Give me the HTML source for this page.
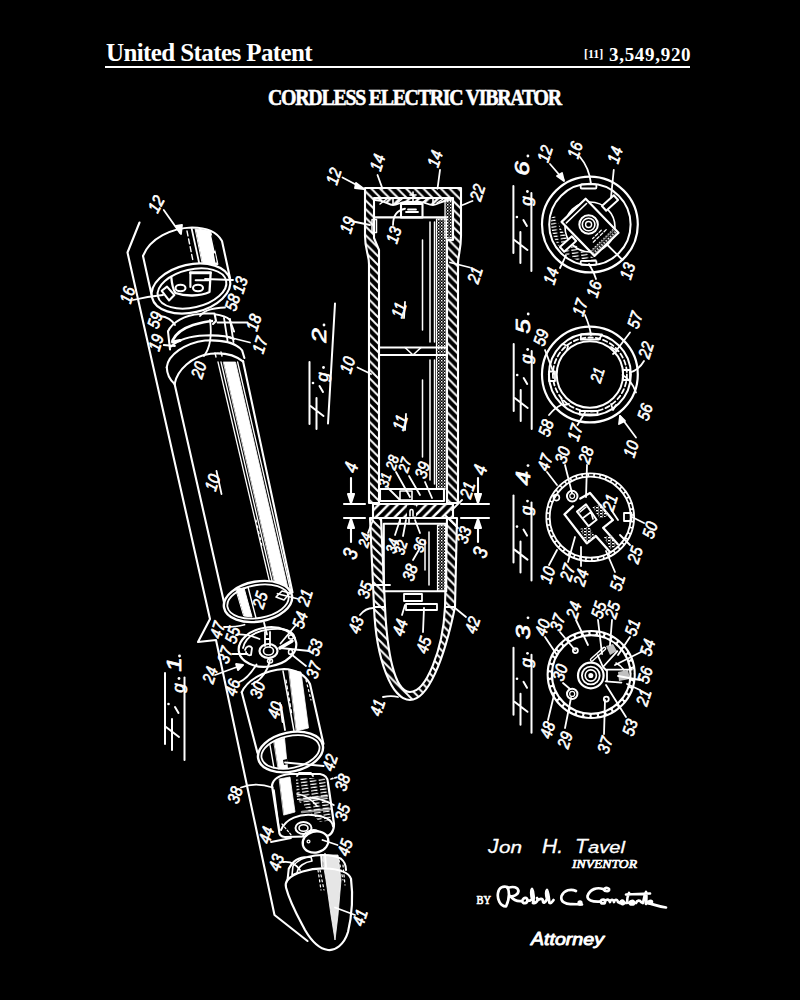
<!DOCTYPE html>
<html><head><meta charset="utf-8">
<style>
html,body{margin:0;padding:0;background:#000;width:800px;height:1000px;overflow:hidden}
.t{position:absolute;color:#fff;font-family:"Liberation Serif",serif;font-weight:bold;white-space:nowrap;line-height:1}
#usp{left:106px;top:40px;font-size:25px;letter-spacing:-0.6px}
#num{left:609px;top:45px;font-size:19px;letter-spacing:0.7px}
#n11{left:584px;top:48px;font-size:12px}
#title{left:268px;top:85px;font-size:24px;letter-spacing:-1.5px;transform-origin:0 0;transform:scaleX(0.826);-webkit-text-stroke:0.6px #fff}
#rule{position:absolute;left:105px;top:66px;width:585px;height:2px;background:#fff}
svg{position:absolute;left:0;top:0}
</style></head><body>
<div class="t" id="usp">United States Patent</div>
<div class="t" id="n11">[11]</div>
<div class="t" id="num">3,549,920</div>
<div id="rule"></div>
<div class="t" id="title">CORDLESS ELECTRIC VIBRATOR</div>
<svg width="800" height="1000" viewBox="0 0 800 1000" fill="none" stroke="#fff" stroke-width="2.1" stroke-linecap="round" stroke-linejoin="round">
<defs>
<pattern id="hb" patternUnits="userSpaceOnUse" width="8.7" height="8.7"><path d="M-1,-1 L9.7,9.7 M-1,7.7 L1,9.7 M7.7,-1 L9.7,1" stroke="#fff" stroke-width="1.9"/></pattern>
<pattern id="hf" patternUnits="userSpaceOnUse" width="9.5" height="9.5"><path d="M-1,10.5 L10.5,-1 M-1,1 L1,-1 M8.5,10.5 L10.5,8.5" stroke="#fff" stroke-width="2.5"/></pattern>
<pattern id="dot" patternUnits="userSpaceOnUse" width="3" height="3"><rect x="0" y="0" width="1.4" height="1.4" fill="#fff" stroke="none"/><rect x="1.5" y="1.5" width="1.2" height="1.2" fill="#ccc" stroke="none"/></pattern>
<pattern id="stip" patternUnits="userSpaceOnUse" width="4" height="3"><rect x="0" y="0" width="2.5" height="1.3" fill="#fff" stroke="none"/><rect x="2" y="1.5" width="1.5" height="1.2" fill="#aaa" stroke="none"/></pattern>
<pattern id="streak" patternUnits="userSpaceOnUse" width="9" height="3.2" patternTransform="rotate(-8)"><path d="M0,1 H6" stroke="#fff" stroke-width="1.3"/></pattern>
</defs>

<g id="fig1">
<!-- envelope -->
<path d="M139.5,222.5 L127.5,252.5 L210,619 L198,642 L216,640 L274.5,915 L307.5,941"/>
<!-- cap 12 -->
<path d="M143,256 C150,238 172,228 192,227.5 C206,227.5 217,232 222,241 L230,278"/>
<path d="M143,256 L152,297"/>
<path d="M195.5,229 L210.5,230.5 L218,264.5 L203,265.5 Z" fill="#fff" stroke-width="1"/>
<path d="M212,236 L215,250 M214.5,254 L216,262" stroke="#000" stroke-width="1.3"/>
<path d="M191.75,229 L199.25,263.5" stroke-width="1.8"/>
<path d="M187,231 L193,261" stroke-width="1.4" stroke-dasharray="5,3"/>
<ellipse cx="191" cy="288.5" rx="40" ry="24" transform="rotate(-13 191 288.5)" stroke-width="2.2" fill="#000"/>
<ellipse cx="192" cy="288.5" rx="35" ry="19" transform="rotate(-13 192 288.5)" stroke-width="2"/>
<path d="M171.25,277 C172,285 173,290 175.5,293 C185,296.5 200,296.5 209.5,292 L210.6,273.8" stroke-width="2.3"/>
<path d="M190.4,272.75 H210.6" stroke-width="2.8"/>
<path d="M190.4,272.75 V287 M195.7,280.2 H209.5" stroke-width="2.1"/>
<ellipse cx="180.5" cy="288" rx="5" ry="3.3" stroke-width="2.1"/><ellipse cx="198" cy="288" rx="5" ry="3.3" stroke-width="2.1"/>
<path d="M161.7,290.8 L167,286.6 L174.4,295 L169,300.4 Z" stroke-width="2.1"/>
<!-- ring 17/18/19/20 -->
<path d="M168,331.5 C172,322 185,315 200,314 L204,313.5 H214.5 L216,321 L213,324 M214.5,314.25 C220,315 227,317 229.5,319.5 L234,331.5"/>
<path d="M168,331.5 L170,349.5"/>
<path d="M172.5,340.5 C176,333 184,328 193,325 C200,323 206,321.5 212,321" stroke-width="2.6"/>
<path d="M172.5,342 L180,340.5" stroke-width="3"/>
<path d="M171,346.5 C178,340 190,336 205,335.5 C220,335 230,337 234,339"/>
<path d="M224,318 L227.5,340.5 M230,319 L233.5,342" stroke-width="1.8"/>
<path d="M166.75,367.25 C168,355 185,343 205,340.5 C222,339.5 236,343 242.1,350.4 L244.4,358"/>
<path d="M166.75,367.25 C167,374 170,380 174.6,384"/>
<path d="M174.6,384 C177,370 192,356 210.6,353.75 C222,352.5 234,354 243.2,361.6"/>
<path d="M215,353 L216,357 M221,352 L222,356" stroke-width="1.4"/>
<!-- tube 10 -->
<path d="M174.6,384 L224.5,604.5 M243,361 L292.5,592.5"/>
<path d="M218,362 L271.5,590 M221,362 L274.2,590" stroke-width="1.3"/>
<path d="M223.6,362 L235.5,362 L288.4,590 L276.5,590 Z" fill="#fff" stroke-width="0.8"/>
<path d="M237.6,362 L290.5,590" stroke-width="1.3"/>
<path d="M256,520 L262,546" stroke-width="1.2" stroke-dasharray="2,4"/>
<path d="M216.5,471 L221.5,494" stroke-width="1.8"/>
<ellipse cx="258" cy="601.5" rx="34.5" ry="20" transform="rotate(-10 258 601.5)" stroke-width="2.4" fill="#000"/>
<ellipse cx="258" cy="601.5" rx="31" ry="16.5" transform="rotate(-10 258 601.5)" stroke-width="1.8"/>
<path d="M236,589 L244,588 L252,617 L244,616 Z" fill="#fff" stroke-width="1"/>
<path d="M248,587 L256,618" stroke-width="1.4"/>
<path d="M276,597 L282,591 L290,593 L284,600 Z" stroke-width="1.6"/>
<!-- disc 24 -->
<ellipse cx="267.5" cy="647" rx="29" ry="19.5" transform="rotate(-9 267.5 647)" stroke-width="2.2"/>
<path d="M243,648 C246,634 262,628 282,629 C290,630 294,634 295,638" stroke-width="1.8"/>
<ellipse cx="268.5" cy="651" rx="9" ry="7" stroke-width="2.2"/><ellipse cx="268.5" cy="651" rx="5" ry="4" stroke-width="1.6"/>
<path d="M265,632 L265,646 M270,632 L270,646 M265,639 H270" stroke-width="1.8"/>
<path d="M245,650 C246,646 250,645 252,648 L251,655 C248,656 246,654 246,652" stroke-width="1.8"/>
<path d="M280,648 L292,641" stroke-width="3.5"/>
<ellipse cx="291" cy="637" rx="2.5" ry="2" stroke-width="1.5"/><ellipse cx="290.5" cy="652" rx="2" ry="2.5" stroke-width="1.5"/><ellipse cx="270" cy="661" rx="2.5" ry="2" stroke-width="1.5"/>
<!-- tube 40 -->
<path d="M241.75,692.25 C247,680 265,670 284,669 C296,669 306,676 310,684 L323.5,744"/>
<path d="M241.75,692.25 L257.5,753"/>
<path d="M289,670 L301,672 L308.5,728 L296.5,731 Z" fill="#fff" stroke-width="0.8"/>
<path d="M283,671 L294,731" stroke-width="1.5"/>
<path d="M286,680 L292,715" stroke-width="1.2" stroke-dasharray="3,3"/>
<path d="M306,680 L311,700" stroke-width="1.2" stroke-dasharray="2,3"/>
<path d="M281,705 L285,730" stroke-width="1.8"/>
<ellipse cx="290.5" cy="752" rx="33" ry="19.5" transform="rotate(-12 290.5 752)" stroke-width="2.4" fill="#000"/>
<ellipse cx="290.5" cy="752" rx="29.5" ry="16" transform="rotate(-12 290.5 752)" stroke-width="1.8"/>
<path d="M274,741 L284.5,738 L287.5,768 L278.5,769 Z" fill="#fff" stroke-width="0.8"/>
<path d="M270,745 L274,768" stroke-width="1.4"/>
<path d="M283,760 L287,759 L288,764 L284,765 Z" fill="#000" stroke="none"/>
<!-- motor 38 -->
<path d="M272,785.5 C273,779 280,775 290,774 L320,774 C326,775 328,779 328,783 L334,824 C334,832 330,836 326,836 L285,837 C281,837 279,834 279,830 Z" stroke-width="2.2"/>
<path d="M279.5,779 L290,777 L295,812 L284,815 Z" fill="#fff" stroke-width="0.8"/>
<path d="M274,790 L279,828" stroke-width="1.6"/>
<path d="M296,778 L325,778 L333,820 L320,822 C310,812 303,805 297,800 Z" fill="url(#streak)" stroke="none"/>
<path d="M300,800 L327,796 M302,812 L330,809" stroke-width="2.5" stroke-opacity="0.6"/>
<path d="M297,794 C305,795 312,800 317,806" stroke-width="1.6"/>
<path d="M281,830 C286,818 300,814 312,815 C325,816 332,820 333,826" stroke-width="2"/>
<path d="M282,824 L292,836" stroke-width="1.2" stroke-dasharray="2,2"/>
<path d="M297,776 L299,773 H311 L313,776" stroke-width="1.8"/>
<ellipse cx="303.5" cy="828" rx="8" ry="6" stroke-width="2"/><ellipse cx="303.5" cy="828" rx="4.5" ry="3.3" stroke-width="1.6"/>
<!-- 45 -->
<path d="M303,836 C306,830 314,829 318,831" stroke-width="1.8"/>
<ellipse cx="315.5" cy="842" rx="13" ry="10.5" transform="rotate(-15 315.5 842)" stroke-width="2.2" fill="#000"/>
<circle cx="308.5" cy="841.5" r="1.4" stroke-width="1.3"/>
<!-- nose 41 and collar 43 -->
<path d="M287.5,880 L288.75,868.75 C293,860 300,857 307.5,857 C315,855 330,853 341,858.75 C345,862 346,866 346,870"/>
<path d="M292,875 L293,866 C298,860 305,857 311,857 L312,861 C305,862 298,866 297,873 Z" stroke-width="1.6"/>
<path d="M321,855 L322,867 M325,854 L326,867" stroke-width="1.8"/>
<path d="M287.5,880 C293,873 310,868 325,868.5 C340,869 349,873 351,878.75 C353,895 352,915 348,932 C344,945 335,951 328,950 C320,949 312,942 305,930 C297,915 290,903 286,887.5 C285,884 286,882 287.5,880 Z" stroke-width="2.2"/>
<path d="M322,855 L338,855 L341,880 L338,915 L335,940 L331,915 L326,880 Z" fill="#fff" fill-opacity="0.9" stroke-width="0.8"/>
<path d="M318,870 L321,890 M343,865 L345,885" stroke-width="1.2" stroke-dasharray="2,3"/>
<path d="M339,860 L343,880 M320,870 L324,890" stroke-width="1.2" stroke-dasharray="2,3"/>
<path d="M280,703 L282.5,722" stroke-width="1.8"/>
</g>

<!-- FIG2 -->
<g id="fig2">
<!-- hatched walls: cap + tube -->
<path d="M365,188 H461 V236 C461,250 458,255 458,264 V503 H447 V240 H453 V198 H374 V238 L379,250 V503 H369 V264 C369,255 365,250 365,236 Z" fill="url(#hb)"/>
<path d="M370,518 L374,607 C376,660 392,700 410,700 C428,700 444,660 455,607 L457,518 H447 L445,607 C443,650 426,692 410,692 C394,692 387,650 385,607 L381,518 Z" fill="url(#hb)"/>
<path d="M374,607 H385 M445,607 H455"/>
<rect x="373" y="504" width="80" height="14" fill="url(#hf)"/>
<rect x="407" y="505.5" width="9" height="11" fill="#000" stroke="none"/>
<path d="M410,516 V511 C410,509 413,509 413,511 V516" stroke-width="1.6"/>
<!-- cap internals -->
<path d="M374,198 H453 V200 C442,200 438,205 433,205 C428,205 425,202 420,202 H405 C400,202 398,205 393,205 C388,205 385,200 374,200 Z" fill="url(#hf)" stroke="none"/>
<path d="M375,200 C385,200 388,205 393,205 C398,205 400,202 405,202 H420 C425,202 428,205 433,205 C438,205 442,200 451,200" stroke-width="1.8"/>
<path d="M393,198 L393,204 M433,198 L433,204 M413,192 V204 M410,195 H416" stroke-width="1.6"/>
<path d="M380,204 L388,198 M396,204 L402,199 M422,203 L428,198 M437,203 L443,199" stroke-width="1.5"/>
<rect x="401" y="204" width="21.5" height="13.4"/>
<path d="M406,212 H418 M408,209.5 H416" stroke-width="1.8"/>
<path d="M375,217.4 H447"/>
<rect x="372" y="219.6" width="4.5" height="13" stroke-width="1.5"/>
<rect x="445" y="199" width="7.7" height="39" fill="url(#dot)" stroke-width="1.2"/>
<!-- batteries -->
<rect x="436.5" y="219" width="10" height="270" fill="url(#dot)" stroke-width="1.2"/>
<path d="M380,347.5 H447 M380,355 H447 M380,489 H444 V501 H380 Z"/>
<path d="M405,347.5 L413,355 L421,347.5" stroke-width="1.6"/>
<path d="M430,222 V342 M430,360 V480 M422.5,240 V330 M422.5,380 V457 M434.5,222 V342 M434.5,360 V484" stroke-width="1.5"/>
<rect x="400" y="491" width="12" height="9" stroke-width="1.6"/>
<!-- motor housing -->
<rect x="383.75" y="523.75" width="62.5" height="67.5"/>
<rect x="437.5" y="525" width="8.5" height="66" fill="url(#dot)" stroke-width="1.2"/>
<path d="M429,532 V585 M425,540 V570" stroke-width="1.5"/>
<path d="M404,594 H422 V601 H404 Z M406,604 H437 V610 H406 Z" stroke-width="1.8"/>
<path d="M400,518 V524 M409,518 V524" stroke-width="1.6"/>
<!-- section lines -->
<path d="M344,504 H365 M344,518 H365 M461,504 H489 M461,518 H489 M351,478 V503 M351,519 V542 M478,478 V503 M478,519 V542"/>
<path d="M348,494 L351,503 L354,494 Z M348,528 L351,519 L354,528 Z M475,494 L478,503 L481,494 Z M475,528 L478,519 L481,528 Z" fill="#fff"/>
<!-- underline for 11 -->
<path d="M405,302 L404,318 M406,414 L405,430" stroke-width="1.8"/>
</g>

<!-- FIG6 -->
<g id="fig6">
<circle cx="589.9" cy="224.5" r="47.9" stroke-width="2.2"/>
<circle cx="589.9" cy="224.5" r="40.7" stroke-width="2"/>
<rect x="580.7" y="184.3" width="15.7" height="4.2" rx="1" stroke-width="1.8"/>
<rect x="580.7" y="260.8" width="15.7" height="4" rx="1" stroke-width="1.8"/>
<path d="M551,218 C550,240 562,258 585,262 L600,262 C590,255 580,250 570,240 C562,232 558,225 556,215 Z" fill="url(#streak)" stroke="none"/>
<circle cx="590" cy="227" r="25" stroke-width="1.6"/>
<g transform="translate(590,227.25) rotate(46)">
<rect x="-23.6" y="-16.7" width="47.3" height="33.4" fill="#000" stroke-width="2.2"/>
<path d="M-19.5,-14 V14" stroke-width="1.6"/>
<rect x="17" y="-15.5" width="5.5" height="31" fill="url(#stip)" stroke="none"/>
<path d="M10,-6 V6 M13,-10 V10" stroke-width="1.3" stroke-dasharray="3,2"/>
</g>
<circle cx="588.6" cy="224.5" r="9.3" stroke-width="2"/><circle cx="588.6" cy="224.5" r="6.3" stroke-width="1.6"/><circle cx="588.6" cy="224.5" r="3" stroke-width="1.4"/>
<g transform="translate(610,203) rotate(-42)"><rect x="-8" y="-3.2" width="16" height="6.4" fill="#000" stroke-width="2"/></g>
<g transform="translate(568,244) rotate(-42)"><rect x="-8" y="-3.2" width="16" height="6.4" fill="#000" stroke-width="2"/></g>
</g>
<!-- FIG5 -->
<g id="fig5">
<circle cx="589.9" cy="374.5" r="47.9" stroke-width="2.2"/>
<circle cx="589.9" cy="374.5" r="41" stroke-width="2"/>
<circle cx="589.9" cy="374.5" r="37" stroke-dasharray="4.5,3" stroke-width="1.8"/>
<circle cx="589.9" cy="374.5" r="33.2" stroke-width="2"/>
<path d="M580.7,339.5 H599 L602,334.5 H581 Z M579.5,414.5 H597.5 V411 H580 Z M623,370 H630 V380 H623 Z M549,371.5 H555 V381 H549 Z" stroke-width="1.8"/>
<path d="M562.5,344 L568,346 L567,350 M611,347 L617,351 L613,354 M561,398 L564,405 L569,404 M611,404 L613,410 L616,405" stroke-width="1.8"/>
</g>
<!-- FIG4 -->
<g id="fig4">
<circle cx="590.2" cy="517.2" r="42.2" stroke-width="5.2"/>
<circle cx="590.2" cy="517.2" r="42.2" stroke="#000" stroke-dasharray="3,3" stroke-width="1.6"/>
<path d="M564.5,514.4 L573,506.3 M580.3,498.6 L590,492.9 L612.8,520.1 L603.1,527.8 L617.8,544.2 M610.5,552.4 L595.8,536 L586.8,543.3 L564.5,514.4" stroke-width="2.3"/>
<path d="M592.5,507 L601,504 L609,515 L600,519 Z M580,529 L589,526 L595,537 L587,543 Z M604,537 L612,535 L617,546 L610,549 Z" fill="url(#stip)" stroke="none"/>
<path d="M577,511.6 L586,504.3 L596.6,519.7 L588.5,526.2 Z" stroke-width="2"/>
<path d="M580,512 L586,507 M583,518 L591,512 L593,519" stroke-width="1.6"/>
<circle cx="572.2" cy="496.1" r="5.3" stroke-width="2"/><circle cx="572.2" cy="496.1" r="2.4" stroke-width="1.2"/>
<circle cx="556.4" cy="497.6" r="3" stroke-width="1.6"/>
<rect x="624" y="513" width="7.5" height="8" stroke-width="1.8"/>
</g>
<!-- FIG3 -->
<g id="fig3">
<circle cx="591.2" cy="674.5" r="41.4" stroke-width="6.4"/>
<circle cx="591.2" cy="674.5" r="41.4" stroke="#000" stroke-dasharray="3.5,4" stroke-width="2.2"/>
<circle cx="590.8" cy="675.5" r="12.8" stroke-width="2.2"/><circle cx="590.8" cy="675.5" r="8.9" stroke-width="1.8"/><circle cx="590.8" cy="675.5" r="5.6" stroke-width="1.6"/><circle cx="590.8" cy="675.5" r="1.5" fill="#fff"/>
<circle cx="572.2" cy="693.9" r="5.2" stroke-width="2"/><circle cx="572.2" cy="693.9" r="2.5" stroke-width="1.2"/>
<circle cx="575.4" cy="650.6" r="2.5" stroke-width="1.8"/><circle cx="606.3" cy="699.1" r="2.5" stroke-width="1.8"/>
<path d="M591.8,659.8 L604.3,648.6" stroke-width="4"/>
<path d="M591.8,659.8 L604.3,648.6" stroke="#000" stroke-width="1.2"/>
<path d="M597.7,655.2 L603,667 L617.4,651.2 M603,667 L607,671 L607,680 M606,669.6 L631.9,669.6 M605.6,681.4 L621.4,682.7" stroke-width="1.8"/>
<path d="M606,646 L613,644 L617,651 L610,655 Z M618,672 L628,670 L630,679 L619,681 Z" fill="#fff" fill-opacity="0.75" stroke="none"/>
<path d="M616,663 C620,665 622,667 624,670" stroke-width="1.6"/>
</g>

<g id="leaders" stroke-width="1.8">
<!-- fig1 -->
<path d="M163.75,210 L180,233"/><path d="M176,226 L181,234 L182,225 Z" fill="#fff"/>
<path d="M133,300 C145,297 152,296 163,295"/>
<path d="M205,279 L233,280"/>
<path d="M200,316 C205,309 215,308 225,307.5"/>
<path d="M160,316 C168,317 172,320 175,325"/>
<path d="M217.5,322.5 L247.5,322.5"/>
<path d="M163.75,345 L175,346"/>
<path d="M230,337.5 L250,342.5"/>
<path d="M210,320 C212,335 210,348 204,356"/>
<path d="M277.5,593.75 L297.5,598.75"/>
<path d="M264,622.5 L267,634.5"/>
<path d="M295.5,625.5 L280.5,643.5"/>
<path d="M224,627 C230,627 240,626 244.5,624.75"/>
<path d="M237,634.5 C245,634 252,636 259.5,639"/>
<path d="M232.5,654 L247.5,654"/>
<path d="M280.5,648 L309.75,651"/>
<path d="M291,654 L306,666"/>
<path d="M215,675 L242.5,665"/><path d="M236,664 L243,665 L238,670 Z" fill="#fff"/>
<path d="M238.5,682.5 C245,680 252,672 256.5,664.5"/>
<path d="M252,684 C262,680 268,670 270,660"/>
<path d="M241,787.5 C250,784 262,784 272.5,787.5"/>
<path d="M285,762.5 L323.75,766"/>
<path d="M331,779 L338,777" stroke-dasharray="2,2"/>
<path d="M310,797.5 C320,798 328,802 333.75,805"/>
<path d="M322.5,840 L337.5,845"/>
<path d="M271,842 L291,838"/>
<path d="M283,862 C290,861 296,864 300,870"/>
<path d="M335,907.5 L355,915"/>
<!-- fig2 -->
<path d="M342.5,177.5 L363.75,188.75"/><path d="M356,183 L364,189 L355,188 Z" fill="#fff"/>
<path d="M377.5,175 L382.5,188.75"/>
<path d="M440,170 L437.5,188.75"/>
<path d="M462.5,205 C466,204 469,202 472.5,201"/>
<path d="M351,221 L370,225"/>
<path d="M393,225 C393,215 398,210 405,208.75"/>
<path d="M450,262.5 L470,267.5"/>
<path d="M357.5,367.5 L371,374"/>
<path d="M388,488 L400,500 M396,472 L410,497 M409,476 L420,495 M425,482 L432,498"/>
<path d="M462,500 L452,510"/>
<path d="M368,533 L373,520"/>
<path d="M395,535 L400,520 M403,536 L406,520 M420,533 L415,520"/>
<path d="M458,528 L445,515"/>
<path d="M413,560 L420,548"/>
<path d="M372,585 L390,585"/>
<path d="M360,615 C364,610 369,608 373,608"/>
<path d="M402,615 L405,605"/>
<path d="M423,632 L424,608"/>
<path d="M466,617 L455,608"/>
<path d="M383,697 C388,696 394,696 398,697"/>
<!-- fig6 -->
<path d="M550,164 L563.75,180"/><path d="M557,176 L564,181 L562,173 Z" fill="#fff"/>
<path d="M580,157 C586,164 590,175 591,183.75"/>
<path d="M613.75,170 L611,197.5"/>
<path d="M560,268 C563,262 565,258 566,255"/>
<path d="M596,279 C594,272 591,268 589,264"/>
<path d="M622.5,260 L607.5,245"/>
<!-- fig5 -->
<path d="M585,315 C588,322 590,328 591,335"/>
<path d="M630,332.5 L617.5,349"/>
<path d="M545,350 C548,358 551,366 554,374"/>
<path d="M644,361 C640,368 635,371 630,372.5"/>
<path d="M636,392.5 C633,384 628,378 622.5,375"/>
<path d="M549,415 C553,410 557,407 561,405"/>
<path d="M577.5,425 L585,412.5"/>
<path d="M636,437.5 L620,416"/><path d="M619,424 L620,416 L625,421 Z" fill="#fff"/>
<!-- fig4 -->
<path d="M547,472 L557,485 M565,465 L572,493 M587,465 L586,497 M612,511 L618,520 M644,523 L632,517 M630,545 L620,535 M615,572 L606,551 M581,566 L581,547 M568,562 L575,537 M549,565 L557,550"/>
<!-- fig3 -->
<path d="M545,637 L557,655 M560,632 L575,650 M576,620 L588,645 M598,620 L602,654 M612,620 L610,645 M630,637 L618,655 M643,651 L615,665 M640,680 L618,676 M640,690 L627,684 M626,717 L606,685 M604,734 L605,700 M565,728 L571,698 M548,720 L554,695 M563,683 L570,689"/>
</g>

<g id="labels" fill="#fff" stroke="#fff" stroke-width="0.7" font-family="Liberation Sans, sans-serif" font-style="italic" text-anchor="middle" dominant-baseline="central">
<text font-size="16.9" transform="translate(156,204) rotate(-62) scale(0.86,1)">12</text>
<text font-size="16.9" transform="translate(127.5,295) rotate(-72) scale(0.86,1)">16</text>
<text font-size="16.9" transform="translate(240,285) rotate(-72) scale(0.86,1)">13</text>
<text font-size="16.9" transform="translate(232.5,302.5) rotate(-72) scale(0.86,1)">58</text>
<text font-size="16.9" transform="translate(155,320) rotate(-72) scale(0.86,1)">59</text>
<text font-size="16.9" transform="translate(253.75,322.5) rotate(-72) scale(0.86,1)">18</text>
<text font-size="16.9" transform="translate(156,342.5) rotate(-72) scale(0.86,1)">19</text>
<text font-size="16.9" transform="translate(260,345) rotate(-72) scale(0.86,1)">17</text>
<text font-size="16.9" transform="translate(198.75,370) rotate(-72) scale(0.86,1)">20</text>
<text font-size="16.9" transform="translate(212.5,482.5) rotate(-72) scale(0.86,1)">10</text>
<text font-size="16.9" transform="translate(260,600) rotate(-72) scale(0.86,1)">25</text>
<text font-size="16.9" transform="translate(305,597.5) rotate(-72) scale(0.86,1)">21</text>
<text font-size="16.9" transform="translate(300,620) rotate(-72) scale(0.86,1)">54</text>
<text font-size="16.9" transform="translate(217.5,630) rotate(-72) scale(0.86,1)">47</text>
<text font-size="16.9" transform="translate(232.5,635) rotate(-72) scale(0.86,1)">55</text>
<text font-size="16.9" transform="translate(225,655) rotate(-72) scale(0.86,1)">37</text>
<text font-size="16.9" transform="translate(315,647.5) rotate(-72) scale(0.86,1)">53</text>
<text font-size="16.9" transform="translate(313.75,670) rotate(-72) scale(0.86,1)">37</text>
<text font-size="16.9" transform="translate(210,675) rotate(-72) scale(0.86,1)">24</text>
<text font-size="16.9" transform="translate(232.5,687.5) rotate(-72) scale(0.86,1)">46</text>
<text font-size="16.9" transform="translate(257.5,690) rotate(-72) scale(0.86,1)">30</text>
<text font-size="16.9" transform="translate(275,710) rotate(-72) scale(0.86,1)">40</text>
<text font-size="16.9" transform="translate(235,795) rotate(-72) scale(0.86,1)">38</text>
<text font-size="16.9" transform="translate(330,762.5) rotate(-72) scale(0.86,1)">42</text>
<text font-size="16.9" transform="translate(342.5,782.5) rotate(-72) scale(0.86,1)">38</text>
<text font-size="16.9" transform="translate(342.5,812.5) rotate(-72) scale(0.86,1)">35</text>
<text font-size="16.9" transform="translate(345,847.5) rotate(-72) scale(0.86,1)">45</text>
<text font-size="16.9" transform="translate(266.25,835) rotate(-72) scale(0.86,1)">44</text>
<text font-size="16.9" transform="translate(276.25,862.5) rotate(-72) scale(0.86,1)">43</text>
<text font-size="16.9" transform="translate(360,917.5) rotate(-72) scale(0.86,1)">41</text>
<text font-size="16.9" transform="translate(333.75,176.25) rotate(-72) scale(0.86,1)">12</text>
<text font-size="16.9" transform="translate(377.5,162.5) rotate(-72) scale(0.86,1)">14</text>
<text font-size="16.9" transform="translate(435,158.75) rotate(-72) scale(0.86,1)">14</text>
<text font-size="16.9" transform="translate(477.5,192.5) rotate(-72) scale(0.86,1)">22</text>
<text font-size="16.9" transform="translate(347.5,225) rotate(-72) scale(0.86,1)">19</text>
<text font-size="16.9" transform="translate(393.75,235) rotate(-72) scale(0.86,1)">13</text>
<text font-size="16.9" transform="translate(475,275) rotate(-72) scale(0.86,1)">21</text>
<text font-size="16.9" transform="translate(398.75,310) rotate(-72) scale(0.86,1)">11</text>
<text font-size="16.9" transform="translate(347.5,365) rotate(-72) scale(0.86,1)">10</text>
<text font-size="16.9" transform="translate(400,422.5) rotate(-72) scale(0.86,1)">11</text>
<text font-size="14.7" transform="translate(385,480) rotate(-72) scale(0.86,1)">31</text>
<text font-size="14.7" transform="translate(392.5,462.5) rotate(-72) scale(0.86,1)">28</text>
<text font-size="14.7" transform="translate(405,465) rotate(-72) scale(0.86,1)">27</text>
<text font-size="16.9" transform="translate(422.5,470) rotate(-72) scale(0.86,1)">39</text>
<text font-size="16.9" transform="translate(467.5,490) rotate(-72) scale(0.86,1)">21</text>
<text font-size="19.2" transform="translate(351,467.5) rotate(-72) scale(0.86,1)">4</text>
<text font-size="19.2" transform="translate(480,470) rotate(-72) scale(0.86,1)">4</text>
<text font-size="20.3" transform="translate(350,553.75) rotate(-72) scale(0.86,1)">3</text>
<text font-size="14.7" transform="translate(365,540) rotate(-72) scale(0.86,1)">24</text>
<text font-size="14.7" transform="translate(392.5,546) rotate(-72) scale(0.86,1)">34</text>
<text font-size="14.7" transform="translate(401,547.5) rotate(-72) scale(0.86,1)">32</text>
<text font-size="14.7" transform="translate(420,545) rotate(-72) scale(0.86,1)">36</text>
<text font-size="16.9" transform="translate(463.75,535) rotate(-72) scale(0.86,1)">33</text>
<text font-size="20.3" transform="translate(480,552.5) rotate(-72) scale(0.86,1)">3</text>
<text font-size="16.9" transform="translate(410,572.5) rotate(-72) scale(0.86,1)">38</text>
<text font-size="16.9" transform="translate(365,590) rotate(-72) scale(0.86,1)">35</text>
<text font-size="16.9" transform="translate(356,625) rotate(-72) scale(0.86,1)">43</text>
<text font-size="16.9" transform="translate(400,627.5) rotate(-72) scale(0.86,1)">44</text>
<text font-size="16.9" transform="translate(423.75,645) rotate(-72) scale(0.86,1)">45</text>
<text font-size="16.9" transform="translate(472.5,625) rotate(-72) scale(0.86,1)">42</text>
<text font-size="16.9" transform="translate(377.5,707.5) rotate(-72) scale(0.86,1)">41</text>
<text font-size="16.9" transform="translate(545,153.75) rotate(-72) scale(0.86,1)">12</text>
<text font-size="16.9" transform="translate(575,150) rotate(-72) scale(0.86,1)">16</text>
<text font-size="16.9" transform="translate(615,155) rotate(-72) scale(0.86,1)">14</text>
<text font-size="16.9" transform="translate(551,276) rotate(-72) scale(0.86,1)">14</text>
<text font-size="16.9" transform="translate(594,289) rotate(-72) scale(0.86,1)">16</text>
<text font-size="16.9" transform="translate(627.5,271) rotate(-72) scale(0.86,1)">13</text>
<text font-size="16.9" transform="translate(580,307.5) rotate(-72) scale(0.86,1)">17</text>
<text font-size="16.9" transform="translate(635,320) rotate(-72) scale(0.86,1)">57</text>
<text font-size="16.9" transform="translate(541,337.5) rotate(-72) scale(0.86,1)">59</text>
<text font-size="16.9" transform="translate(646,350) rotate(-72) scale(0.86,1)">22</text>
<text font-size="15.8" transform="translate(597.5,375) rotate(-72) scale(0.86,1)">21</text>
<text font-size="16.9" transform="translate(645,412) rotate(-72) scale(0.86,1)">56</text>
<text font-size="16.9" transform="translate(546,428) rotate(-72) scale(0.86,1)">58</text>
<text font-size="16.9" transform="translate(575,432.5) rotate(-72) scale(0.86,1)">17</text>
<text font-size="16.9" transform="translate(631,449) rotate(-72) scale(0.86,1)">10</text>
<text font-size="16.9" transform="translate(545,462.5) rotate(-72) scale(0.86,1)">47</text>
<text font-size="16.9" transform="translate(562.5,455) rotate(-72) scale(0.86,1)">30</text>
<text font-size="16.9" transform="translate(586,455) rotate(-72) scale(0.86,1)">28</text>
<text font-size="16.9" transform="translate(610,502.5) rotate(-72) scale(0.86,1)">21</text>
<text font-size="16.9" transform="translate(650,530) rotate(-72) scale(0.86,1)">50</text>
<text font-size="16.9" transform="translate(635,555) rotate(-72) scale(0.86,1)">25</text>
<text font-size="16.9" transform="translate(617.5,582.5) rotate(-72) scale(0.86,1)">51</text>
<text font-size="16.9" transform="translate(581,577.5) rotate(-72) scale(0.86,1)">24</text>
<text font-size="16.9" transform="translate(567.5,572.5) rotate(-72) scale(0.86,1)">27</text>
<text font-size="16.9" transform="translate(547.5,575) rotate(-72) scale(0.86,1)">10</text>
<text font-size="16.9" transform="translate(542.5,627.5) rotate(-72) scale(0.86,1)">40</text>
<text font-size="16.9" transform="translate(557.5,622.5) rotate(-72) scale(0.86,1)">37</text>
<text font-size="16.9" transform="translate(573.75,610) rotate(-72) scale(0.86,1)">24</text>
<text font-size="16.9" transform="translate(598.75,610) rotate(-72) scale(0.86,1)">55</text>
<text font-size="16.9" transform="translate(612.5,610) rotate(-72) scale(0.86,1)">25</text>
<text font-size="16.9" transform="translate(632.5,627.5) rotate(-72) scale(0.86,1)">51</text>
<text font-size="16.9" transform="translate(647.5,647.5) rotate(-72) scale(0.86,1)">54</text>
<text font-size="16.9" transform="translate(645,675) rotate(-72) scale(0.86,1)">56</text>
<text font-size="16.9" transform="translate(643.75,697.5) rotate(-72) scale(0.86,1)">21</text>
<text font-size="16.9" transform="translate(630,727.5) rotate(-72) scale(0.86,1)">53</text>
<text font-size="16.9" transform="translate(605,745) rotate(-72) scale(0.86,1)">37</text>
<text font-size="16.9" transform="translate(565,740) rotate(-72) scale(0.86,1)">29</text>
<text font-size="16.9" transform="translate(547.5,730) rotate(-72) scale(0.86,1)">48</text>
<text font-size="16.9" transform="translate(560,672.5) rotate(-72) scale(0.86,1)">30</text>
</g>

<!-- EXTRA -->
<g id="figlabs" stroke-width="2">
<g>
<path d="M513.4,186.0 L513.4,253.0"/>
<path d="M531.4,193.0 L531.4,271.0"/>
<path d="M520.4,232.0 L520.4,263.0 M514.4,240.0 L527.4,250.0"/>
<path d="M523.4,220.0 L526.9,226.0"/><circle cx="516.9" cy="217.0" r="1.3" fill="#fff" stroke="none"/>
<text x="0" y="0" transform="translate(526.4,201.0) rotate(-90)" font-size="17.0" fill="#fff" stroke="#fff" stroke-width="0.6" font-family="Liberation Sans, sans-serif" font-style="italic" text-anchor="middle" dominant-baseline="central">g</text>
<circle cx="527.4" cy="191.5" r="1.4" fill="#fff" stroke="none"/>
<text x="0" y="0" transform="translate(521.9,168.5) rotate(-90) scale(1.25,1)" font-size="21.0" fill="#fff" stroke="#fff" stroke-width="0.7" font-family="Liberation Sans, sans-serif" font-style="italic" text-anchor="middle" dominant-baseline="central">6</text>
<circle cx="527.9" cy="156.0" r="1.4" fill="#fff" stroke="none"/>
</g>
<g>
<path d="M513.7,344.0 L513.7,411.0"/>
<path d="M531.7,351.0 L531.7,429.0"/>
<path d="M520.7,390.0 L520.7,421.0 M514.7,398.0 L527.7,408.0"/>
<path d="M523.7,378.0 L527.2,384.0"/><circle cx="517.2" cy="375.0" r="1.3" fill="#fff" stroke="none"/>
<text x="0" y="0" transform="translate(526.7,359.0) rotate(-90)" font-size="17.0" fill="#fff" stroke="#fff" stroke-width="0.6" font-family="Liberation Sans, sans-serif" font-style="italic" text-anchor="middle" dominant-baseline="central">g</text>
<circle cx="527.7" cy="349.5" r="1.4" fill="#fff" stroke="none"/>
<text x="0" y="0" transform="translate(522.2,326.5) rotate(-90) scale(1.25,1)" font-size="21.0" fill="#fff" stroke="#fff" stroke-width="0.7" font-family="Liberation Sans, sans-serif" font-style="italic" text-anchor="middle" dominant-baseline="central">5</text>
<circle cx="528.2" cy="314.0" r="1.4" fill="#fff" stroke="none"/>
</g>
<g>
<path d="M513.5,495.6 L513.5,562.6"/>
<path d="M531.5,502.6 L531.5,580.6"/>
<path d="M520.5,541.6 L520.5,572.6 M514.5,549.6 L527.5,559.6"/>
<path d="M523.5,529.6 L527.0,535.6"/><circle cx="517.0" cy="526.6" r="1.3" fill="#fff" stroke="none"/>
<text x="0" y="0" transform="translate(526.5,510.6) rotate(-90)" font-size="17.0" fill="#fff" stroke="#fff" stroke-width="0.6" font-family="Liberation Sans, sans-serif" font-style="italic" text-anchor="middle" dominant-baseline="central">g</text>
<circle cx="527.5" cy="501.1" r="1.4" fill="#fff" stroke="none"/>
<text x="0" y="0" transform="translate(522.0,478.1) rotate(-90) scale(1.25,1)" font-size="21.0" fill="#fff" stroke="#fff" stroke-width="0.7" font-family="Liberation Sans, sans-serif" font-style="italic" text-anchor="middle" dominant-baseline="central">4</text>
<circle cx="528.0" cy="465.6" r="1.4" fill="#fff" stroke="none"/>
</g>
<g>
<path d="M513.5,647.8 L513.5,714.8"/>
<path d="M531.5,654.8 L531.5,732.8"/>
<path d="M520.5,693.8 L520.5,724.8 M514.5,701.8 L527.5,711.8"/>
<path d="M523.5,681.8 L527.0,687.8"/><circle cx="517.0" cy="678.8" r="1.3" fill="#fff" stroke="none"/>
<text x="0" y="0" transform="translate(526.5,662.8) rotate(-90)" font-size="17.0" fill="#fff" stroke="#fff" stroke-width="0.6" font-family="Liberation Sans, sans-serif" font-style="italic" text-anchor="middle" dominant-baseline="central">g</text>
<circle cx="527.5" cy="653.3" r="1.4" fill="#fff" stroke="none"/>
<text x="0" y="0" transform="translate(522.0,632.3) rotate(-90) scale(1.25,1)" font-size="21.0" fill="#fff" stroke="#fff" stroke-width="0.7" font-family="Liberation Sans, sans-serif" font-style="italic" text-anchor="middle" dominant-baseline="central">3</text>
<circle cx="528.0" cy="617.8" r="1.4" fill="#fff" stroke="none"/>
</g>
<g>
<path d="M165.0,673.0 L165.0,744.0"/>
<path d="M184.5,677.5 L184.5,760.0"/>
<path d="M172.0,719.0 L172.0,750.0 M166.0,727.0 L179.0,737.0"/>
<path d="M175.0,707.0 L178.5,713.0"/><circle cx="168.5" cy="704.0" r="1.3" fill="#fff" stroke="none"/>
<text x="0" y="0" transform="translate(178.0,688.0) rotate(-90)" font-size="17.0" fill="#fff" stroke="#fff" stroke-width="0.6" font-family="Liberation Sans, sans-serif" font-style="italic" text-anchor="middle" dominant-baseline="central">g</text>
<circle cx="179.0" cy="678.5" r="1.4" fill="#fff" stroke="none"/>
<text x="0" y="0" transform="translate(173.5,664.5) rotate(-90) scale(1.25,1)" font-size="21.0" fill="#fff" stroke="#fff" stroke-width="0.7" font-family="Liberation Sans, sans-serif" font-style="italic" text-anchor="middle" dominant-baseline="central">1</text>
<circle cx="179.5" cy="656.0" r="1.4" fill="#fff" stroke="none"/>
</g>
<g>
<path d="M309.5,362.0 L309.5,424.0"/>
<path d="M335,303.5 L328,423.5"/>
<path d="M316.5,398.0 L316.5,429.0 M310.5,406.0 L323.5,416.0"/>
<path d="M319.5,386.0 L323.0,392.0"/><circle cx="313.0" cy="383.0" r="1.3" fill="#fff" stroke="none"/>
<text x="0" y="0" transform="translate(322.5,377.0) rotate(-90)" font-size="17.0" fill="#fff" stroke="#fff" stroke-width="0.6" font-family="Liberation Sans, sans-serif" font-style="italic" text-anchor="middle" dominant-baseline="central">g</text>
<circle cx="323.5" cy="367.5" r="1.4" fill="#fff" stroke="none"/>
<text x="0" y="0" transform="translate(318.0,335.5) rotate(-90) scale(1.25,1)" font-size="21.0" fill="#fff" stroke="#fff" stroke-width="0.7" font-family="Liberation Sans, sans-serif" font-style="italic" text-anchor="middle" dominant-baseline="central">2</text>
<circle cx="324.0" cy="325.0" r="1.4" fill="#fff" stroke="none"/>
</g>
</g>
<g id="sig">
<g fill="#fff" stroke="#fff" stroke-width="0.3" font-family="Liberation Sans, sans-serif" font-style="italic">
<text x="488" y="853" font-size="21">J</text>
<text x="499" y="853" font-size="16" textLength="23" lengthAdjust="spacingAndGlyphs">on</text>
<text x="542" y="853" font-size="21">H.</text>
<text x="575" y="853" font-size="21">T</text>
<text x="588" y="853" font-size="16" textLength="37" lengthAdjust="spacingAndGlyphs">avel</text>
</g>
<g fill="#fff" stroke="none" font-family="Liberation Serif, serif">
<text x="572" y="867.5" font-size="13.5" font-style="italic" textLength="65" lengthAdjust="spacingAndGlyphs" stroke="#fff" stroke-width="0.7">INVENTOR</text>
<text x="476.5" y="903.5" font-size="12" textLength="14.5" lengthAdjust="spacingAndGlyphs" stroke="#fff" stroke-width="0.7">BY</text>
</g>
<g fill="#fff" stroke="#fff" stroke-width="0.9" font-family="Liberation Sans, sans-serif" font-style="italic">
<text x="531" y="944.5" font-size="19" textLength="13" lengthAdjust="spacingAndGlyphs">A</text>
<text x="544" y="944.5" font-size="16.5" textLength="60" lengthAdjust="spacingAndGlyphs">ttorney</text>
</g>
<g stroke-width="2.7">
<path d="M506,906.5 C500,906 497,899 498,893 C499,887 503,886 507.5,887 C510,893 509,900 506,906.5 Z"/>
<path d="M507.5,888 C513,886 518,887 518.5,891 C518,895 513,897 510,896 C513,899 516,902 522,901 C524,897 527,897 527.5,900.5 C527,904 523,904 522,901 M527.5,900 C529,901 531,901 532,899 C531,894 531,890 532,889 C534,892 534,900 533,903 C536,904 538.5,900 537,898 M537,901 C539.5,898 543,898 543,901.5 C543,904 546,902 547,899 C546,895 546,891 547,890 C549,894 549,902 549.5,903 C551,904 552,902 553.5,900"/>
<path d="M576,891 C571,888.5 564,890 561.5,896 C560,902 566,904.5 572,904 L582,904.5"/>
<circle cx="580" cy="903" r="1.3" fill="#fff"/>
<path d="M605,890.5 C603,888 607,887 609,889 C610,892 605,892 603,889 C597,887 590,889 587.5,896 C587,900 592,902 600,901.5 C602,899 605,899 605,902 C605,904 601,904 601,902 M605,901 C607,899 609,899 610,902 C611,899 613,899 614,902 C615,899 617,899 618,902 L620,903 C621,900 623,900 624,902 C625,904 622,905 621,903 L627,903 C627,898 628,895 629,893 M626,894.5 L650,893.5 M629,903 C631,900 634,900 634,903 C634,905 630,905 630,903 L636,903 C637,900 640,900 641,902 L643,903 C644,898 645,894 646,892 C647,896 646,902 646,904 C648,901 652,900 652,902 C651,904 649,904 648,903 C652,904 657,906 666,907.5"/>
</g>
</g>

</svg>
</body></html>
